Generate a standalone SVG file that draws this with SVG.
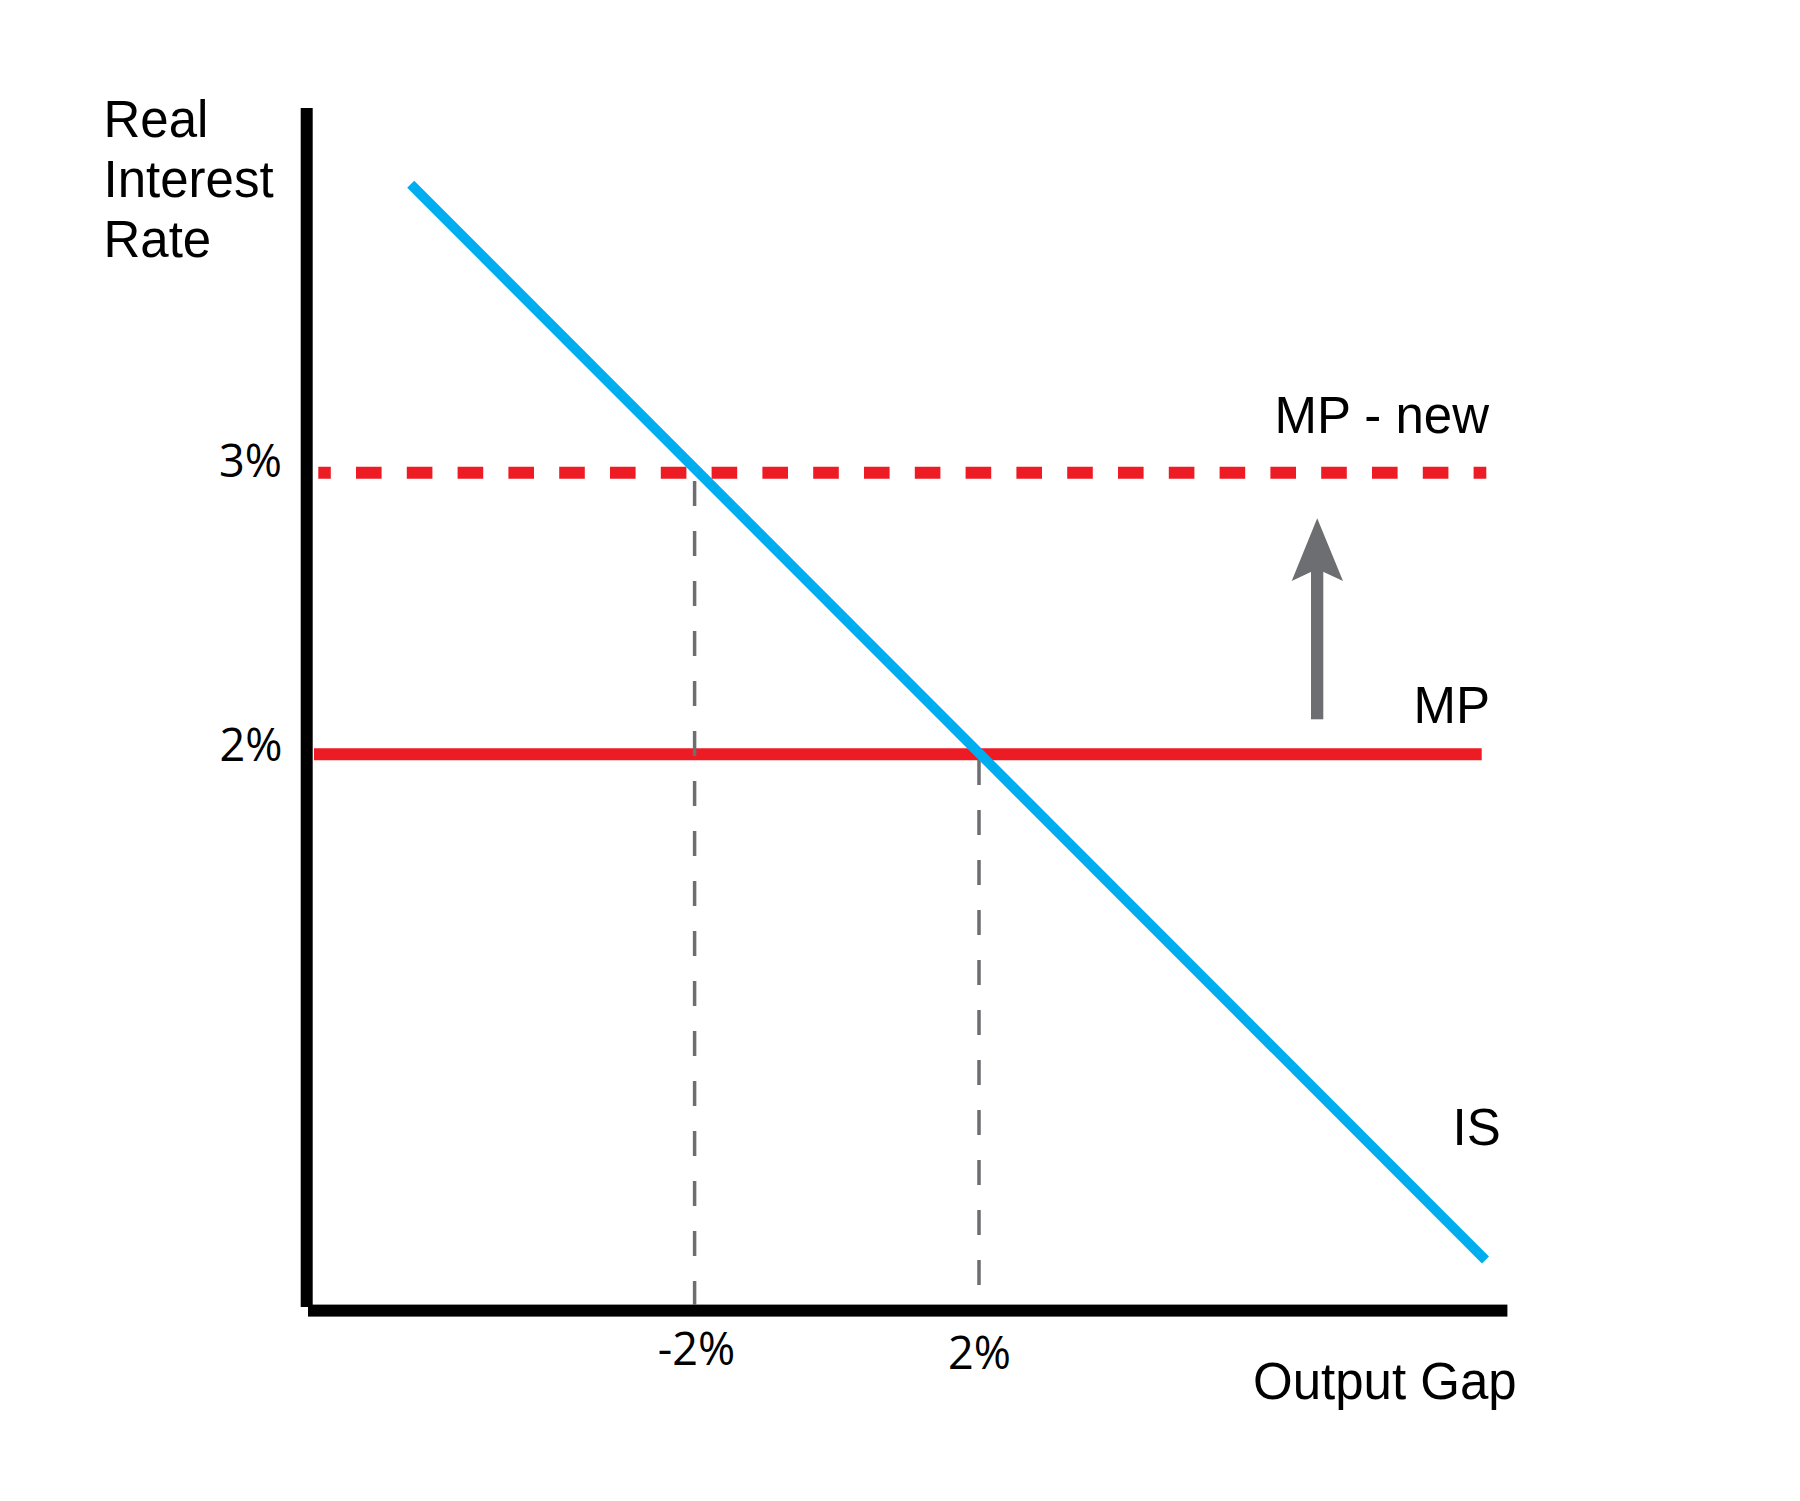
<svg xmlns="http://www.w3.org/2000/svg" width="1800" height="1501" viewBox="0 0 1800 1501">
<style>
.lbl{font-family:"Liberation Sans",Arial,Helvetica,sans-serif;font-size:51px;fill:#000}
.tick{font-family:"Open Sans","Liberation Sans",sans-serif;font-size:45px;fill:#000}
.guide{stroke:#6d6e71;stroke-width:3.5;stroke-dasharray:25 25;fill:none}
</style>
<rect width="1800" height="1501" fill="#fff"/>
<g id="axes">
<rect x="300.7" y="108" width="12" height="1199" fill="#000"/>
<rect x="308" y="1304.6" width="1199.4" height="12" fill="#000"/>
</g>
<g id="mp-new">
<line x1="318.3" y1="472.7" x2="1486.3" y2="472.7" stroke="#ed1c24" stroke-width="12" stroke-dasharray="25.6 25.2" stroke-dashoffset="13.1"/>
</g>
<g id="mp">
<line x1="314" y1="754.2" x2="1481.7" y2="754.2" stroke="#ed1c24" stroke-width="12"/>
</g>
<g id="guides">
<line class="guide" x1="694.6" y1="481" x2="694.6" y2="1305"/>
<line class="guide" x1="979" y1="760" x2="979" y2="1305"/>
</g>
<g id="is">
<line x1="410.7" y1="184.2" x2="1485.5" y2="1260" stroke="#00aeef" stroke-width="10"/>
</g>
<g id="connectors">
<rect x="1311" y="569" width="12.3" height="150.3" fill="#6d6e71"/>
<polygon points="1317.2,518.3 1343,581 1317.2,569 1291.7,581" fill="#6d6e71"/>
</g>
<g id="labels">
<text class="lbl" x="103.5" y="137">Real</text>
<text class="lbl" x="103.5" y="197">Interest</text>
<text class="lbl" x="103.5" y="257">Rate</text>
<text class="lbl" x="1489" y="433" text-anchor="end">MP - new</text>
<text class="lbl" x="1490" y="723" text-anchor="end">MP</text>
<text class="lbl" x="1452.5" y="1145">IS</text>
<text class="lbl" x="1253" y="1399">Output Gap</text>
<text class="tick" x="282" y="476.7" text-anchor="end">3%</text>
<text class="tick" x="282.5" y="760.7" text-anchor="end">2%</text>
<text class="tick" x="696.5" y="1364.5" text-anchor="middle">-2%</text>
<text class="tick" x="979.4" y="1369" text-anchor="middle">2%</text>
</g>
</svg>
